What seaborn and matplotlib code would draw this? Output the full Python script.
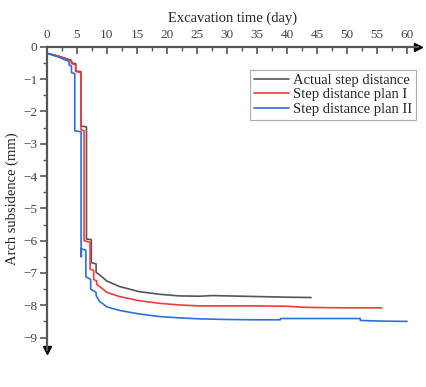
import matplotlib
matplotlib.use("Agg")
import matplotlib.pyplot as plt
import seaborn as sns
import pandas as pd
from matplotlib.ticker import MultipleLocator

series_names = ["Actual step distance", "Step distance plan I", "Step distance plan II"]

actual_t = [0, 1, 2, 3, 4.1, 4.1, 4.8, 4.8, 5.7, 5.7, 6.6, 6.6, 7.4, 7.4, 8.2, 8.2,
            8.8, 10, 12.1, 15.4, 18.8, 22, 25.4, 27.6, 30, 35, 40, 44]
actual_v = [-0.2, -0.24, -0.29, -0.35, -0.42, -0.5, -0.52, -0.75, -0.77, -2.45, -2.48, -5.95,
            -5.97, -6.68, -6.72, -6.98, -7.06, -7.25, -7.42, -7.58, -7.66, -7.71, -7.72, -7.70,
            -7.71, -7.73, -7.75, -7.76]

plan1_t = [0, 1, 2, 3, 4.1, 4.1, 4.8, 4.8, 5.7, 5.7, 6.2, 6.2, 7.2, 7.2, 7.8, 7.8, 8.3, 8.3,
           8.8, 10, 12.1, 15.4, 18.8, 22, 25.4, 30, 35, 40, 42.5, 45, 50, 55.8]
plan1_v = [-0.2, -0.25, -0.3, -0.36, -0.44, -0.52, -0.55, -0.76, -0.8, -2.57, -2.6, -6.0,
           -6.05, -6.88, -6.92, -7.2, -7.25, -7.35, -7.42, -7.6, -7.73, -7.86, -7.94, -7.99,
           -8.02, -8.02, -8.02, -8.03, -8.06, -8.07, -8.08, -8.08]

plan2_t = [0, 1, 2, 3, 3.7, 3.7, 4.1, 4.1, 4.65, 4.65, 5.7, 5.7, 5.75, 5.75, 6.5, 6.5, 7.3,
           7.3, 8.2, 8.2, 8.8, 10, 12.1, 15.4, 18.8, 22, 25.4, 30, 35, 38.9, 38.9, 45, 52.2,
           52.2, 55.8, 60]
plan2_v = [-0.2, -0.26, -0.32, -0.4, -0.45, -0.56, -0.6, -0.8, -0.83, -2.6, -2.63, -6.5,
           -6.5, -6.25, -6.3, -7.12, -7.2, -7.5, -7.6, -7.7, -7.88, -8.05, -8.16, -8.27, -8.35,
           -8.39, -8.42, -8.44, -8.45, -8.45, -8.41, -8.41, -8.41, -8.47, -8.49, -8.5]

x_ticks = [0, 5, 10, 15, 20, 25, 30, 35, 40, 45, 50, 55, 60]
y_ticks = [0, -1, -2, -3, -4, -5, -6, -7, -8, -9]

colors = ["#555555", "#f23a3c", "#2e6fdc"]

frames = []
for name, t, v in zip(series_names, [actual_t, plan1_t, plan2_t], [actual_v, plan1_v, plan2_v]):
    frames.append(pd.DataFrame({"t": t, "v": v, "series": name}))
df = pd.concat(frames, ignore_index=True)

sns.set_style("white")
plt.rcParams["font.family"] = ["Liberation Serif", "DejaVu Serif"]

fig = plt.figure(figsize=(4.26, 3.87), dpi=100)
ax = fig.add_axes([0.110, 0.096, 0.871, 0.783])

sns.lineplot(data=df, x="t", y="v", hue="series", hue_order=series_names,
             palette=colors, sort=False, estimator=None, linewidth=1.2, ax=ax)

ax.set_xlim(0, 61.8)
ax.set_ylim(-9.38, 0)

axis_col = "#555555"
for s in ["bottom", "right"]:
    ax.spines[s].set_visible(False)
for s in ["top", "left"]:
    ax.spines[s].set_visible(True)
    ax.spines[s].set_color(axis_col)
    ax.spines[s].set_linewidth(1.6)

ax.plot(1, 1, marker=">", color="black", markersize=6, transform=ax.transAxes, clip_on=False)
ax.plot(0, 0, marker="v", color="black", markersize=6, transform=ax.transAxes, clip_on=False)

ax.xaxis.tick_top()
ax.xaxis.set_label_position("top")
ax.set_xticks(x_ticks)
ax.set_yticks(y_ticks)
ax.xaxis.set_minor_locator(MultipleLocator(2.5))
ax.yaxis.set_minor_locator(MultipleLocator(0.5))
ax.tick_params(axis="x", which="both", direction="in", top=True, bottom=False,
               color=axis_col, labelsize=9.5, labelcolor="#444444", pad=4)
ax.tick_params(axis="x", which="major", length=5, width=1.2)
ax.tick_params(axis="x", which="minor", length=3, width=1.0)
ax.tick_params(axis="y", which="both", direction="out", left=True,
               color=axis_col, labelsize=9.5, labelcolor="#444444", pad=2)
ax.tick_params(axis="y", which="major", length=5, width=1.2)
ax.tick_params(axis="y", which="minor", length=3, width=1.0)

ax.set_xlabel("Excavation time (day)", fontsize=10.5, labelpad=5)
ax.set_ylabel("Arch subsidence (mm)", fontsize=10.5, labelpad=3)

leg = ax.legend(loc="upper right", bbox_to_anchor=(0.995, 0.924), fontsize=10.5,
                frameon=True, fancybox=False, edgecolor="#999999", handlelength=2.4,
                handletextpad=0.3, borderpad=0.25, labelspacing=0.1, borderaxespad=0)
leg.get_frame().set_linewidth(0.8)

fig.savefig("out.png", dpi=100)
